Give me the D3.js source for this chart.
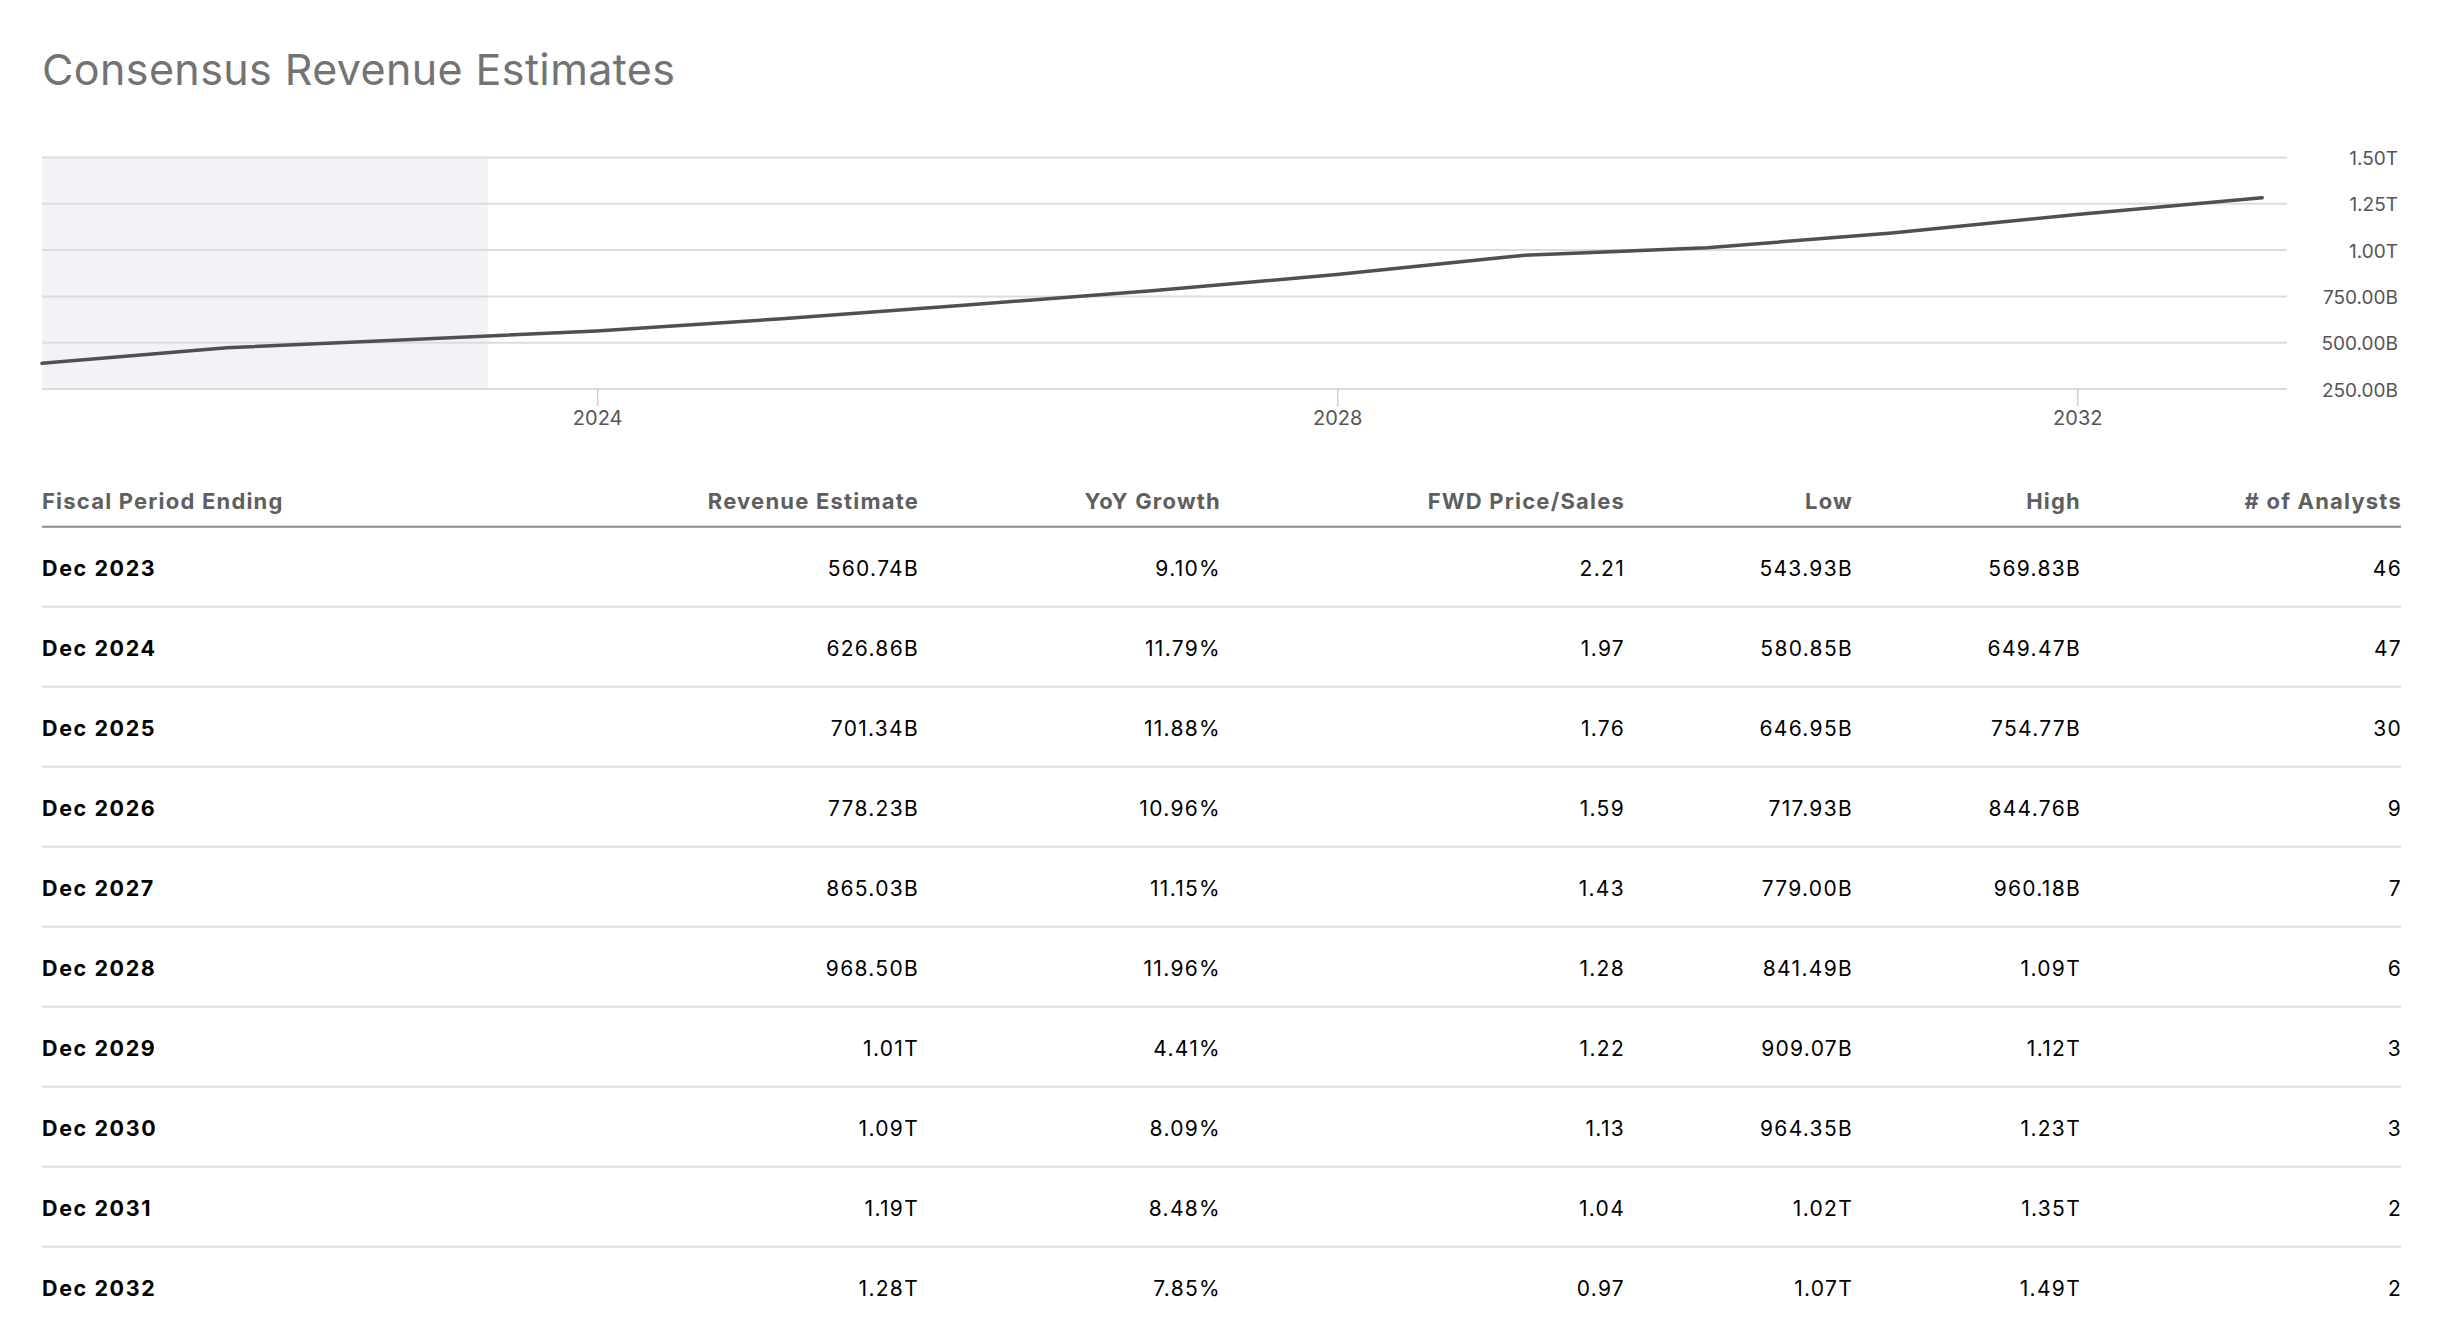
<!DOCTYPE html>
<html>
<head>
<meta charset="utf-8">
<script src="https://cdn.jsdelivr.net/npm/d3@7"></script>
<style>
  body { margin: 0; background: #fff; }
  svg text { font-family: Inter, "Noto Sans", sans-serif; }
</style>
</head>
<body>
<div id="wrapper"></div>
<script>
// revenue line (billions), Dec of each fiscal year
const lineYears = [2020, 2021, 2022, 2023, 2024, 2025, 2026, 2027, 2028, 2029, 2030, 2031, 2032]
const lineRevenue = [386.06, 469.82, 513.98, 560.74, 626.86, 701.34, 778.23, 865.03, 968.50, 1010, 1090, 1190, 1280]
const yTicks = [250, 500, 750, 1000, 1250, 1500]
const xTickYears = [2024, 2028, 2032]
const todayDate = new Date(2023, 4, 30)

// table
const headers = ["Fiscal Period Ending", "Revenue Estimate", "YoY Growth", "FWD Price/Sales", "Low", "High", "# of Analysts"]
const periods = ["Dec 2023", "Dec 2024", "Dec 2025", "Dec 2026", "Dec 2027", "Dec 2028", "Dec 2029", "Dec 2030", "Dec 2031", "Dec 2032"]
const revenueEst = ["560.74B", "626.86B", "701.34B", "778.23B", "865.03B", "968.50B", "1.01T", "1.09T", "1.19T", "1.28T"]
const yoyGrowth = ["9.10%", "11.79%", "11.88%", "10.96%", "11.15%", "11.96%", "4.41%", "8.09%", "8.48%", "7.85%"]
const fwdPriceSales = ["2.21", "1.97", "1.76", "1.59", "1.43", "1.28", "1.22", "1.13", "1.04", "0.97"]
const lowEst = ["543.93B", "580.85B", "646.95B", "717.93B", "779.00B", "841.49B", "909.07B", "964.35B", "1.02T", "1.07T"]
const highEst = ["569.83B", "649.47B", "754.77B", "844.76B", "960.18B", "1.09T", "1.12T", "1.23T", "1.35T", "1.49T"]
const analysts = ["46", "47", "30", "9", "7", "6", "3", "3", "2", "2"]

const dimensions = {
    width: 2442,
    height: 1336,
    chartLeft: 42,
    chartRight: 2287,
    chartTop: 157,
    chartBottom: 388.5,
}

const wrapper = d3.select("#wrapper")
  .append("svg")
    .attr("width", dimensions.width)
    .attr("height", dimensions.height)

wrapper.append("text")
    .attr("x", 42)
    .attr("y", 85)
    .attr("fill", "#737373")
    .style("font-size", "43px")
    .style("letter-spacing", "0.4px")
    .text("Consensus Revenue Estimates")

// scales
const xScale = d3.scaleTime()
    .domain([new Date(2020, 11, 31), new Date(2033, 1, 18)])
    .range([dimensions.chartLeft, dimensions.chartRight])

const yScale = d3.scaleLinear()
    .domain([250, 1500])
    .range([dimensions.chartBottom, dimensions.chartTop])

const fmtY = d => d >= 1000 ? d3.format(".2f")(d / 1000) + "T" : d3.format(".2f")(d) + "B"

// shaded "actuals" region
wrapper.append("rect")
    .attr("x", xScale.range()[0])
    .attr("y", yScale(1500))
    .attr("width", xScale(todayDate) - xScale.range()[0])
    .attr("height", yScale(250) - yScale(1500))
    .attr("fill", "#f2f3f6")

// y grid + labels
const yAxis = d3.axisRight(yScale)
    .tickValues(yTicks)
    .tickSize(-(dimensions.chartRight - dimensions.chartLeft))
    .tickPadding(0)
    .tickFormat(fmtY)

const yAxisGroup = wrapper.append("g")
    .attr("transform", `translate(${dimensions.chartRight},0)`)
    .call(yAxis)
yAxisGroup.select(".domain").remove()
yAxisGroup.selectAll(".tick line").attr("stroke", "#dcdcdc").attr("stroke-width", 2)
yAxisGroup.selectAll(".tick text")
    .attr("x", 2398 - dimensions.chartRight)
    .attr("dy", "0.4em")
    .attr("text-anchor", "end")
    .attr("fill", "#555")
    .style("font-size", "19px")
    .style("font-family", "Inter, sans-serif")

// x axis
const xAxis = d3.axisBottom(xScale)
    .tickValues(xTickYears.map(y => new Date(y, 0, 1)))
    .tickSize(18)
    .tickPadding(4)
    .tickFormat(d3.timeFormat("%Y"))

const xAxisGroup = wrapper.append("g")
    .attr("transform", `translate(0,${dimensions.chartBottom})`)
    .call(xAxis)
xAxisGroup.select(".domain").remove()
xAxisGroup.selectAll(".tick line").attr("stroke", "#d0d0d0").attr("stroke-width", 1.5)
xAxisGroup.selectAll(".tick text")
    .attr("fill", "#555")
    .style("font-size", "20px")
    .style("font-family", "Inter, sans-serif")

// revenue line
const lineData = lineYears.map((y, i) => ({ date: new Date(y, 11, 31), value: lineRevenue[i] }))
const lineGenerator = d3.line()
    .x(d => xScale(d.date))
    .y(d => yScale(d.value))

wrapper.append("path")
    .datum(lineData)
    .attr("d", lineGenerator)
    .attr("fill", "none")
    .attr("stroke", "#505050")
    .attr("stroke-width", 3.5)
    .attr("stroke-linecap", "round")
    .attr("stroke-linejoin", "round")

// table (right-aligned columns nudged for trailing letter-spacing)
const colX = [42, 919, 1221, 1625, 1853, 2081, 2402]
const tableLeft = 42, tableRight = 2401
const rowScale = d3.scaleLinear().domain([0, 1]).range([575.7, 655.7])

const headerGroup = wrapper.append("g")
headerGroup.selectAll("text")
    .data(headers)
    .join("text")
    .attr("x", (d, i) => colX[i])
    .attr("y", 508.5)
    .attr("text-anchor", (d, i) => i == 0 ? "start" : "end")
    .attr("fill", "#5f5f5f")
    .style("font-size", "22px")
    .style("letter-spacing", "1.2px")
    .style("font-weight", 700)
    .text(d => d)

wrapper.append("line")
    .attr("x1", tableLeft).attr("x2", tableRight)
    .attr("y1", 526.7).attr("y2", 526.7)
    .attr("stroke", "#8a8a8a")
    .attr("stroke-width", 2)

const rows = periods.map((p, i) => [p, revenueEst[i], yoyGrowth[i], fwdPriceSales[i], lowEst[i], highEst[i], analysts[i]])

// row separators
wrapper.append("g").selectAll("line")
    .data(rows.slice(0, -1))
    .join("line")
    .attr("x1", tableLeft).attr("x2", tableRight)
    .attr("y1", (d, i) => rowScale(i) + 31)
    .attr("y2", (d, i) => rowScale(i) + 31)
    .attr("stroke", "#dcdcdc")
    .attr("stroke-width", 2)

const rowGroups = wrapper.append("g").selectAll("g")
    .data(rows)
    .join("g")
    .attr("transform", (d, i) => `translate(0,${rowScale(i)})`)

rowGroups.selectAll("text")
    .data(d => d)
    .join("text")
    .attr("x", (d, i) => colX[i])
    .attr("text-anchor", (d, i) => i == 0 ? "start" : "end")
    .attr("fill", "#000")
    .style("font-size", (d, i) => i == 0 ? "21.5px" : "21px")
    .style("letter-spacing", (d, i) => i == 0 ? "1.6px" : "1.3px")
    .style("font-weight", (d, i) => i == 0 ? 700 : 400)
    .text(d => d)
</script>
</body>
</html>
